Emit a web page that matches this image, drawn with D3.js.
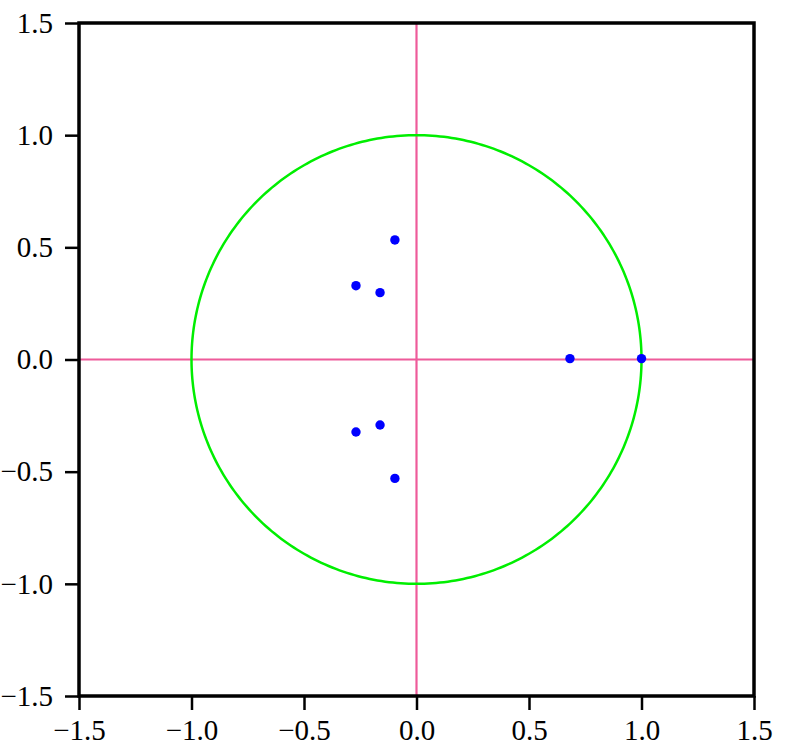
<!DOCTYPE html>
<html>
<head>
<meta charset="utf-8">
<script src="https://cdn.jsdelivr.net/npm/d3@7"></script>
<style>
  html, body { margin: 0; padding: 0; background: #fff; }
  svg { display: block; }
  .tick text { font-family: "Liberation Serif", "Times New Roman", Times, serif; font-size: 29px; }
</style>
</head>
<body>
<svg id="chart" width="800" height="754"></svg>
<script>
// Data
const pointsRe = [-0.096, -0.269, -0.162, 0.682, 1.0, -0.269, -0.162, -0.096];
const pointsIm = [0.533, 0.329, 0.298, 0.004, 0.004, -0.323, -0.292, -0.530];
const xTicks = [-1.5, -1.0, -0.5, 0.0, 0.5, 1.0, 1.5];
const yTicks = [-1.5, -1.0, -0.5, 0.0, 0.5, 1.0, 1.5];
const circleRadius = [1.0];

const svg = d3.select("#chart");
const x = d3.scaleLinear().domain([-1.5, 1.5]).range([79, 754]);
const y = d3.scaleLinear().domain([-1.5, 1.5]).range([696, 23]);
const fmt = d3.format(".1f");

// zero lines
svg.append("line")
  .attr("x1", x(0)).attr("x2", x(0)).attr("y1", y(1.5)).attr("y2", y(-1.5))
  .attr("stroke", "#ee5b9a").attr("stroke-width", 2.2);
svg.append("line")
  .attr("x1", x(-1.5)).attr("x2", x(1.5)).attr("y1", y(0)).attr("y2", y(0))
  .attr("stroke", "#ee5b9a").attr("stroke-width", 2.2);

// unit circle
const circ = d3.range(0, 361, 1).map(a => {
  const t = a * Math.PI / 180;
  return [circleRadius[0] * Math.cos(t), circleRadius[0] * Math.sin(t)];
});
svg.append("path")
  .attr("d", d3.line().x(d => x(d[0])).y(d => y(d[1]))(circ))
  .attr("fill", "none").attr("stroke", "#00ee00").attr("stroke-width", 2.5);

// points
svg.selectAll("circle.pt").data(pointsRe.map((r, i) => [r, pointsIm[i]]))
  .enter().append("circle").attr("class", "pt")
  .attr("cx", d => x(d[0])).attr("cy", d => y(d[1])).attr("r", 4.7)
  .attr("fill", "#0000ff");

// axes
const xAxis = svg.append("g").attr("transform", `translate(0,${y(-1.5)})`)
  .call(d3.axisBottom(x).tickValues(xTicks).tickFormat(fmt).tickSize(14).tickSizeOuter(0).tickPadding(9));
const yAxis = svg.append("g").attr("transform", `translate(${x(-1.5)},0)`)
  .call(d3.axisLeft(y).tickValues(yTicks).tickFormat(fmt).tickSize(14).tickSizeOuter(0).tickPadding(12));
[xAxis, yAxis].forEach(g => {
  g.attr("font-family", "Liberation Serif").attr("font-size", 29);
  g.select(".domain").remove();
  g.selectAll(".tick line").attr("stroke", "#000").attr("stroke-width", 2.5);
  g.selectAll(".tick text").attr("fill", "#000");
});

// frame
svg.append("rect")
  .attr("x", x(-1.5)).attr("y", y(1.5))
  .attr("width", x(1.5) - x(-1.5)).attr("height", y(-1.5) - y(1.5))
  .attr("fill", "none").attr("stroke", "#000").attr("stroke-width", 3.5);
</script>
</body>
</html>
